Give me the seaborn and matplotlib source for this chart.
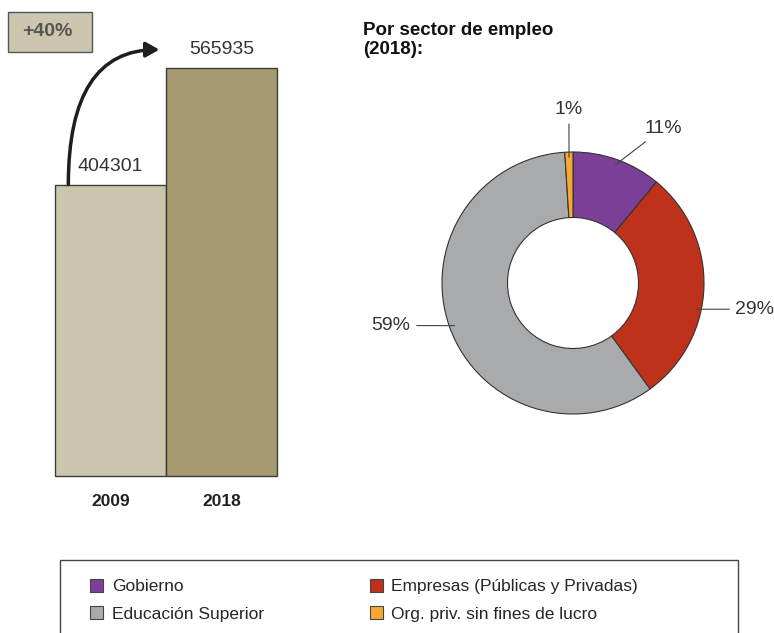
import numpy as np
import matplotlib
matplotlib.use("Agg")
import matplotlib.pyplot as plt
import seaborn as sns
from matplotlib.patches import Patch, Rectangle, FancyArrowPatch

# data
years = ["2009", "2018"]
researchers = [404301, 565935]
sectors = ["Gobierno", "Empresas (Públicas y Privadas)", "Educación Superior", "Org. priv. sin fines de lucro"]
shares = [11, 29, 59, 1]

bar_colors = ["#CCC6AE", "#A59A70"]
pie_colors = ["#7B3F98", "#BE321B", "#A9AAAC", "#F7A833"]
# small vertical nudges for the donut labels (axes units)
label_nudge = [0.07, -0.17, 0.0, 0.0]

sns.set_theme(style="white")
plt.rcParams["font.family"] = ["Liberation Sans", "DejaVu Sans"]

W, H = 774, 633
fig = plt.figure(figsize=(W / 100, H / 100), dpi=100)


def fx(px):
    return px / W


def fy(py):
    return 1 - py / H


# bar chart
ax1 = fig.add_axes([fx(55), fy(476), 222 / W, 408 / H])
sns.barplot(x=years, y=researchers, hue=years, palette=bar_colors, width=1,
            saturation=1, edgecolor="#3c3c3c", linewidth=1, legend=False, ax=ax1)
for p in ax1.patches:
    p.set_clip_on(False)
ax1.set_xlim(-0.5, 1.5)
ax1.set_ylim(0, max(researchers))
for s in ax1.spines.values():
    s.set_visible(False)
ax1.set_yticks([])
ax1.tick_params(axis="x", length=0, pad=13)
for lbl in ax1.get_xticklabels():
    lbl.set_fontweight("bold")
    lbl.set_fontsize(12.5)
    lbl.set_color("#222222")
for c in ax1.containers:
    ax1.bar_label(c, labels=[f"{int(v)}" for v in c.datavalues], padding=7,
                  fontsize=14, color="#333333")

# growth arrow
arrow = FancyArrowPatch((-0.38, researchers[0]), (0.44, researchers[1] * 1.045),
                        connectionstyle="angle3,angleA=90,angleB=0",
                        arrowstyle="-|>,head_length=8,head_width=4.5",
                        color="#1e1e1e", lw=2.5, transform=ax1.transData,
                        clip_on=False, shrinkA=0, shrinkB=0)
fig.add_artist(arrow)

growth = round((researchers[1] / researchers[0] - 1) * 100)
fig.add_artist(Rectangle((fx(8), fy(52)), 84 / W, 40 / H, transform=fig.transFigure,
                         facecolor="#CCC6AE", edgecolor="#555555", lw=1))
fig.text(fx(22), fy(31), f"+{growth}%", ha="left", va="center", fontsize=14,
         fontweight="bold", color="#555555")

# title of the donut
fig.text(fx(363), fy(22), "Por sector de empleo\n(2018):", ha="left", va="top",
         fontsize=13.5, fontweight="bold", color="#111111", linespacing=1.18)

# donut
ax2 = fig.add_axes([fx(442), fy(414), 262 / W, 262 / H])
wedges, _ = ax2.pie(shares, colors=pie_colors, startangle=90, counterclock=False,
                    radius=1, wedgeprops=dict(width=0.5, edgecolor="#333333", linewidth=0.8))
ax2.set_xlim(-1, 1)
ax2.set_ylim(-1, 1)

for w, v, dy in zip(wedges, shares, label_nudge):
    ang = np.deg2rad((w.theta1 + w.theta2) / 2)
    cx, cy = np.cos(ang), np.sin(ang)
    if abs(cx) < 0.2:
        xy = (0.96 * cx, 0.96 * cy)
        txt, ha, va = (cx * 1.0, 1.26), "center", "bottom"
    elif abs(cy) < 0.5:
        ey = 0.96 * cy + dy
        xy = (np.sign(cx) * np.sqrt(0.96 ** 2 - ey ** 2), ey)
        txt = (np.sign(cx) * 1.24, ey)
        ha, va = ("left" if cx > 0 else "right"), "center"
    else:
        xy = (0.96 * cx, 0.96 * cy)
        txt = (1.25 * cx + 0.12, 1.25 * cy - 0.13 + dy)
        ha, va = "left", "bottom"
    ax2.annotate(f"{v}%", xy=xy, xytext=txt, ha=ha, va=va, fontsize=14,
                 color="#333333", annotation_clip=False,
                 arrowprops=dict(arrowstyle="-", color="#444444", lw=0.8,
                                 shrinkA=2, shrinkB=0))

# legend
order = [0, 2, 1, 3]
handles = [Patch(facecolor=pie_colors[i], edgecolor="#444444", linewidth=0.8) for i in order]
labels = [sectors[i] for i in order]
fig.legend(handles, labels, ncol=2, loc="upper left", bbox_to_anchor=(fx(90), fy(579)),
           frameon=False, fontsize=12.5, handlelength=0.75, handleheight=0.75,
           handletextpad=0.5, columnspacing=6.1, labelspacing=0.68,
           borderaxespad=0, borderpad=0)
fig.add_artist(Rectangle((fx(60), fy(700)), 678 / W, 140 / H, transform=fig.transFigure,
                         facecolor="none", edgecolor="#444444", lw=1, clip_on=False))

fig.savefig("out.png", dpi=100)
